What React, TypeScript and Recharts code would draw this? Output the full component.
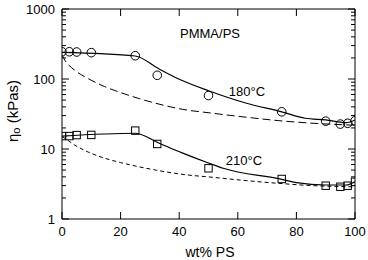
import React from 'react';
import { ComposedChart, XAxis, YAxis, Line, Scatter } from 'recharts';

// measured points (wt% PS vs zero-shear viscosity, kPas)
const wtPS = [0, 2.5, 5, 10, 25, 32.5, 50, 75, 90, 95, 97.5, 100];
const eta180 = [245, 245, 243, 238, 215, 113, 58, 34, 25, 22.7, 23.3, 25.3];
const eta210 = [15.3, 15.3, 15.8, 15.9, 18.3, 11.8, 5.3, 3.73, 2.99, 2.89, 2.99, 3.4];

// model curves, solid
const fit180X = [0, 25, 33, 41, 50, 63, 75, 83, 90, 97, 100];
const fit180Y = [240, 213, 140, 95, 68, 45, 34, 27.5, 26, 23.8, 26];
const fit210X = [0, 25, 33, 41, 50, 55, 75, 80, 90, 97, 100];
const fit210Y = [15.3, 16.8, 12.2, 8.8, 6.3, 5.3, 3.69, 3.3, 3.06, 3.06, 3.4];

// log-additivity curves (dashed)
const mix180X = [0, 1, 4.3, 8.8, 14.5, 20, 26, 32, 37, 41, 51.5, 63, 74, 86, 97, 100];
const mix180Y = [220, 185, 134, 102, 78, 64, 53, 45, 40, 37, 32.4, 28.4, 25.4, 23.3, 22.1, 21.9];
const mix210X = [0, 1, 4.3, 8.8, 14.5, 20, 26, 32, 41, 51.5, 63, 74, 86, 97, 100];
const mix210Y = [15, 14.2, 11.4, 9.1, 7.4, 6.4, 5.6, 5.0, 4.35, 3.94, 3.53, 3.23, 2.99, 2.9, 2.88];

const xTicks = [0, 20, 40, 60, 80, 100];
const yTicks = [1, 10, 100, 1000];
const yMinor = [2, 3, 4, 5, 6, 7, 8, 9, 20, 30, 40, 50, 60, 70, 80, 90, 200, 300, 400, 500, 600, 700, 800, 900];

const pts = (xs: number[], ys: number[]) => xs.map((x, i) => ({ x, y: ys[i] }));

const font = '"Liberation Sans", Arial, Helvetica, sans-serif';

const Circle = (p: any) => <circle cx={p.cx} cy={p.cy} r={4.3} fill="#fff" fillOpacity={0} stroke="#000" strokeWidth={1} />;
const Square = (p: any) => <rect x={p.cx - 3.7} y={p.cy - 3.7} width={7.4} height={7.4} fill="none" stroke="#000" strokeWidth={1} />;

// inward tick marks drawn at the positions the axis hands us
const LeftTick = (p: any) => {
  const v = p.payload.value;
  const major = yTicks.includes(v);
  const x0 = p.x + 7;
  return (
    <g>
      <line x1={x0} x2={x0 + (major ? 7 : 4)} y1={p.y} y2={p.y} stroke="#000" />
      {major && <text x={p.x} y={p.y} textAnchor="end" dominantBaseline="central" fontSize={13} fontFamily={font} fill="#000">{v}</text>}
    </g>
  );
};
const RightTick = (p: any) => {
  const major = yTicks.includes(p.payload.value);
  return <line x1={p.x} x2={p.x - (major ? 7 : 4)} y1={p.y} y2={p.y} stroke="#000" />;
};
const BottomTick = (p: any) => (
  <g>
    <line x1={p.x} x2={p.x} y1={p.y - 8} y2={p.y - 15} stroke="#000" />
    <text x={p.x} y={p.y} dy="0.71em" textAnchor="middle" fontSize={13} fontFamily={font} fill="#000">{p.payload.value}</text>
  </g>
);
const TopTick = (p: any) => <line x1={p.x} x2={p.x} y1={p.y} y2={p.y + 7} stroke="#000" />;

export default function App() {
  const logY = { type: 'number' as const, scale: 'log' as const, domain: [1, 1000], allowDataOverflow: true, interval: 0 as const, stroke: '#000', ticks: [...yTicks, ...yMinor] };
  const linX = { type: 'number' as const, domain: [0, 100], allowDataOverflow: true, interval: 0 as const, stroke: '#000', ticks: xTicks, dataKey: 'x' };
  return (
    <div style={{ position: 'absolute', left: 0, top: 0, width: 368, height: 260, background: '#fff' }}>
      <ComposedChart width={368} height={260} margin={{ top: 0, right: 0, left: 0, bottom: 11 }}>
        <XAxis {...linX} height={30} tickLine={false} tickSize={0} tickMargin={8} tick={BottomTick} />
        <XAxis {...linX} xAxisId="top" orientation="top" height={9} tickLine={false} tickSize={0} tickMargin={0} tick={TopTick} />
        <YAxis {...logY} width={62} tickLine={false} tickSize={0} tickMargin={7} tick={LeftTick} />
        <YAxis {...logY} yAxisId="r" orientation="right" width={13} tickLine={false} tickSize={0} tickMargin={0} tick={RightTick} />

        <Line data={pts(mix180X, mix180Y)} dataKey="y" type="monotone" stroke="#000" strokeWidth={1} strokeDasharray="8 4" dot={false} isAnimationActive={false} />
        <Line data={pts(mix210X, mix210Y)} xAxisId="top" yAxisId="r" dataKey="y" type="monotone" stroke="#000" strokeWidth={1} strokeDasharray="4 3" dot={false} isAnimationActive={false} />
        <Line data={pts(fit180X, fit180Y)} dataKey="y" type="monotone" stroke="#000" strokeWidth={1.2} dot={false} isAnimationActive={false} />
        <Line data={pts(fit210X, fit210Y)} dataKey="y" type="monotone" stroke="#000" strokeWidth={1.2} dot={false} isAnimationActive={false} />
        <Scatter data={pts(wtPS, eta180)} dataKey="y" shape={Circle} isAnimationActive={false} />
        <Scatter data={pts(wtPS, eta210)} dataKey="y" shape={Square} isAnimationActive={false} />

        <text x={210} y={33} textAnchor="middle" dominantBaseline="central" fontSize={13} fontFamily={font} fill="#000">PMMA/PS</text>
        <text x={247} y={91} textAnchor="middle" dominantBaseline="central" fontSize={13} fontFamily={font} fill="#000">180°C</text>
        <text x={244} y={160} textAnchor="middle" dominantBaseline="central" fontSize={13} fontFamily={font} fill="#000">210°C</text>
        <text x={210} y={252} textAnchor="middle" dominantBaseline="central" fontSize={14} fontFamily={font} fill="#000">wt% PS</text>
        <text transform="translate(12,111) rotate(-90)" textAnchor="middle" dominantBaseline="central" fontSize={15} fontFamily={font} fill="#000">
          η<tspan fontSize={11} dy={4}>o</tspan><tspan dy={-4}> (kPas)</tspan>
        </text>
      </ComposedChart>
    </div>
  );
}
